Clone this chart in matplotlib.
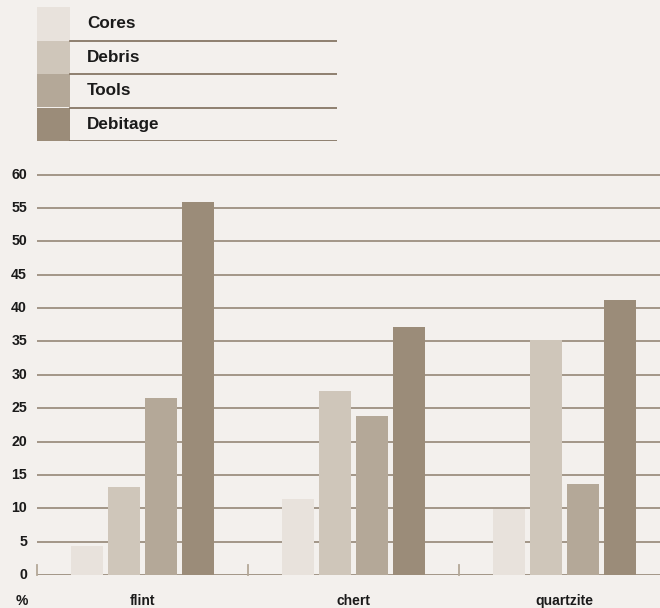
import matplotlib.pyplot as plt
import numpy as np

# data
materials = ['flint', 'chert', 'quartzite']
series = ['Cores', 'Debris', 'Tools', 'Debitage']
cores = [4.3, 11.4, 9.9]
debris = [13.2, 27.6, 35.2]
tools = [26.5, 23.8, 13.6]
debitage = [55.9, 37.2, 41.2]
yticks = [0, 5, 10, 15, 20, 25, 30, 35, 40, 45, 50, 55, 60]

colors = ['#e8e2dc', '#cfc6ba', '#b4a898', '#9b8c79']
bg = '#f3f0ed'
grid_col = '#8d7e6d'
plt.rcParams['font.family'] = ['Liberation Sans', 'DejaVu Sans']

W, H = 660, 608
fig = plt.figure(figsize=(W / 100, H / 100), dpi=100, facecolor=bg)

# main axes, pixel geometry
px_unit = 400.3 / 60
y0, ytop = 575, 165
x0, x1 = 37, 660
cat_w = 211
ax = fig.add_axes([x0 / W, (H - y0) / H, (x1 - x0) / W, (y0 - ytop) / H])
ax.set_facecolor(bg)
ax.set_xlim(-0.5, (x1 - x0) / cat_w - 0.5)
ax.set_ylim(0, (y0 - ytop) / px_unit)

for t in yticks:
    ax.axhline(t, color=grid_col, lw=1.1, zorder=1)

x = np.arange(len(materials))
bw = 32 / cat_w
pitch = 37 / cat_w
offsets = (np.arange(4) - 1.5) * pitch
for vals, off, c in zip([cores, debris, tools, debitage], offsets, colors):
    ax.bar(x + off, vals, width=bw, color=c, zorder=2)

# small boundary ticks on the base line
for b in [-0.5, 0.5, 1.5]:
    ax.plot([b, b], [0, 10 / px_unit], color='#b3a797', lw=1.3,
            zorder=3, clip_on=False)

for s in ax.spines.values():
    s.set_visible(False)
ax.set_xticks([])
ax.set_yticks([])

for t in yticks:
    ax.text(-0.5 - 10 / cat_w, t, str(t), ha='right', va='center',
            fontsize=10.2, fontweight='bold', color='#1a1a1a')
for i, m in enumerate(materials):
    ax.text(i, -26 / px_unit, m, ha='center', va='center',
            fontsize=10, fontweight='bold', color='#1a1a1a')
ax.text(-0.5 - 15 / cat_w, -26 / px_unit, '%', ha='center', va='center',
        fontsize=10, fontweight='bold', color='#1a1a1a')

# legend block at top
lg = fig.add_axes([37 / W, (H - 141) / H, 300 / W, 134 / H])
lg.set_facecolor(bg)
lg.set_xlim(0, 300)
lg.set_ylim(4, 0)
lg.barh(np.arange(4) + 0.5, [33] * 4, height=1, left=0, color=colors)
for i, name in enumerate(series):
    lg.plot([33, 300], [i + 1, i + 1], color='#7d6c5a', lw=1.2)
    lg.text(50, i + 0.5, name, ha='left', va='center', fontsize=12.3,
            fontweight='bold', color='#1a1a1a')
lg.axis('off')

fig.savefig('out.png', dpi=100, facecolor=bg)
